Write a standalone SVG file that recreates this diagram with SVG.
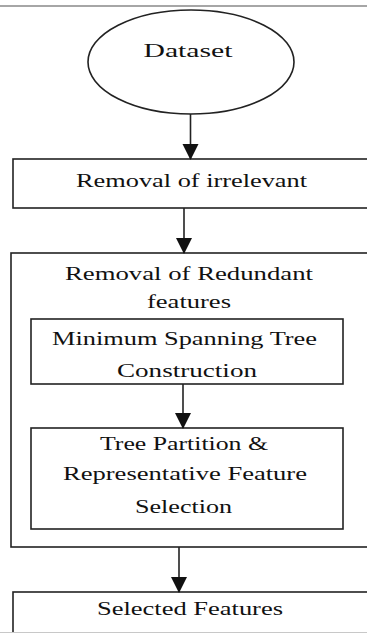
<svg xmlns="http://www.w3.org/2000/svg" width="367" height="633" viewBox="0 0 367 633">
<style>
.box{fill:#fff;stroke:#222;stroke-width:1.6}
.lbl{font-family:"Liberation Serif","Times New Roman",serif;font-size:19px;fill:#111;text-anchor:middle}
.edge{stroke:#222;stroke-width:1.6;fill:none}
</style>
<defs>
<marker id="arr" markerWidth="16" markerHeight="18" refX="15" refY="8" orient="auto" markerUnits="userSpaceOnUse">
<path d="M0,0 L16,8 L0,16 Z" fill="#111"/>
</marker>
</defs>
<rect width="367" height="633" fill="#fff"/>
<line x1="0" y1="6" x2="367" y2="6" stroke="#a6a6a6" stroke-width="2"/>
<g id="dataset">
<ellipse class="box" cx="191" cy="62" rx="103" ry="52"/>
<text class="lbl" x="188" y="57" textLength="89" lengthAdjust="spacingAndGlyphs">Dataset</text>
</g>
<g id="irrelevant">
<rect class="box" x="13" y="159" width="370" height="49"/>
<text class="lbl" x="191.5" y="187" textLength="231" lengthAdjust="spacingAndGlyphs">Removal of irrelevant</text>
</g>
<g id="redundant">
<rect class="box" x="11" y="253" width="372" height="294"/>
<text class="lbl" x="189" y="280" textLength="248" lengthAdjust="spacingAndGlyphs">Removal of Redundant</text>
<text class="lbl" x="189" y="308" textLength="84" lengthAdjust="spacingAndGlyphs">features</text>
</g>
<g id="mst">
<rect class="box" x="31" y="319" width="312" height="65"/>
<text class="lbl" x="184.5" y="345" textLength="265" lengthAdjust="spacingAndGlyphs">Minimum Spanning Tree</text>
<text class="lbl" x="187" y="377" textLength="140" lengthAdjust="spacingAndGlyphs">Construction</text>
</g>
<g id="partition">
<rect class="box" x="31" y="428" width="312" height="101"/>
<text class="lbl" x="184" y="450" textLength="168" lengthAdjust="spacingAndGlyphs">Tree Partition &amp;</text>
<text class="lbl" x="185" y="480" textLength="244" lengthAdjust="spacingAndGlyphs">Representative Feature</text>
<text class="lbl" x="183.5" y="513" textLength="97" lengthAdjust="spacingAndGlyphs">Selection</text>
</g>
<g id="selected">
<rect class="box" x="13" y="592" width="370" height="60"/>
<text class="lbl" x="190" y="615" textLength="186" lengthAdjust="spacingAndGlyphs">Selected Features</text>
</g>
<line x1="0" y1="632.5" x2="367" y2="632.5" stroke="#c8c8c8" stroke-width="1"/>
<g id="connectors">
<line class="edge" x1="190.5" y1="114" x2="190.5" y2="159" marker-end="url(#arr)"/>
<line class="edge" x1="184" y1="208" x2="184" y2="253" marker-end="url(#arr)"/>
<line class="edge" x1="183" y1="384" x2="183" y2="428" marker-end="url(#arr)"/>
<line class="edge" x1="179" y1="547" x2="179" y2="592" marker-end="url(#arr)"/>
</g>
</svg>
